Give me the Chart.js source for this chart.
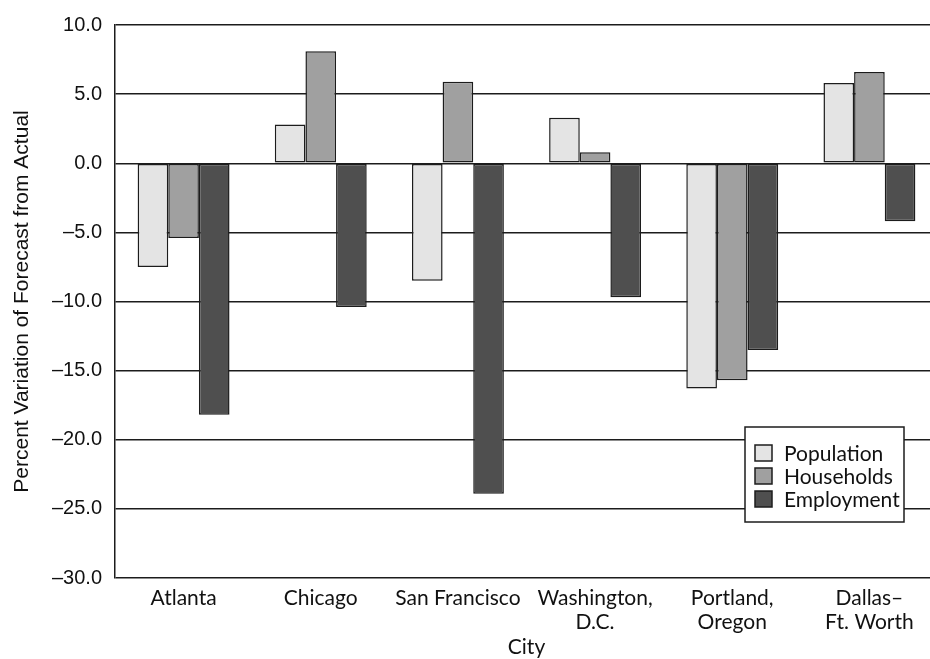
<!DOCTYPE html>
<html>
<head>
<meta charset="utf-8">
<script src="https://cdn.jsdelivr.net/npm/chart.js@4.4.1/dist/chart.umd.min.js"></script>
<style>
html, body { margin: 0; padding: 0; background: #fff; overflow: hidden; }
#wrap { width: 940px; height: 659px; position: relative; }
</style>
</head>
<body>
<div id="wrap"><canvas id="grafico"></canvas></div>
<script>
// datos
const cities = [["Atlanta"], ["Chicago"], ["San Francisco"], ["Washington,", "D.C."], ["Portland,", "Oregon"], ["Dallas–", "Ft. Worth"]];
const seriesNames = ["Population", "Households", "Employment"];
const population = [-7.5, 2.8, -8.5, 3.3, -16.3, 5.8];
const households = [-5.4, 8.1, 5.9, 0.8, -15.7, 6.6];
const employment = [-18.2, -10.4, -23.9, -9.7, -13.5, -4.2];
const yMin = -30, yMax = 10, yStep = 5;

const colores = ["#e4e4e4", "#a0a0a0", "#4f4f4f"];
const linea = "#1c1c1c";

// leyenda dentro del area del grafico
const legendBox = {
    id: "legendBox",
    afterDraw(chart) {
        const ctx = chart.ctx, a = chart.chartArea;
        const x = a.right - 193, y = a.top + 402, w = 159, h = 95;
        ctx.save();
        ctx.fillStyle = "#fff";
        ctx.fillRect(x, y, w, h);
        ctx.strokeStyle = linea;
        ctx.lineWidth = 1.5;
        ctx.strokeRect(x, y, w, h);
        chart.data.datasets.forEach((ds, i) => {
            const sy = y + 18 + i * 23;
            ctx.fillStyle = ds.backgroundColor;
            ctx.fillRect(x + 10, sy, 17, 16);
            ctx.strokeRect(x + 10, sy, 17, 16);
            ctx.fillStyle = "#111";
            ctx.font = "21px Lato";
            ctx.textBaseline = "middle";
            ctx.fillText(ds.label, x + 39, sy + 9);
        });
        ctx.restore();
    }
};

const ctx = document.getElementById("grafico").getContext("2d");
new Chart(ctx, {
    type: "bar",
    data: {
        labels: cities,
        datasets: [
            { label: seriesNames[0], data: population, backgroundColor: colores[0] },
            { label: seriesNames[1], data: households, backgroundColor: colores[1] },
            { label: seriesNames[2], data: employment, backgroundColor: colores[2] }
        ].map(d => Object.assign(d, { borderColor: linea, borderWidth: 1.5, borderSkipped: false }))
    },
    options: {
        responsive: true,
        maintainAspectRatio: false,
        animation: false,
        layout: { padding: { top: 22, right: 2, left: 0, bottom: 0 } },
        datasets: { bar: { categoryPercentage: 0.67, barPercentage: 1.0 } },
        plugins: { legend: { display: false }, tooltip: { enabled: false } },
        scales: {
            x: {
                grid: { display: false },
                border: { display: false },
                ticks: { color: "#111", font: { family: "Lato", size: 21, lineHeight: 1.15 }, padding: 0, maxRotation: 0, autoSkip: false },
                title: { display: true, text: "City", color: "#111", font: { family: "Lato", size: 21, lineHeight: 1.15 }, padding: 0 },
                afterFit: s => { s.height = 81; }
            },
            y: {
                min: yMin,
                max: yMax,
                ticks: {
                    stepSize: yStep,
                    color: "#111",
                    font: { family: "Liberation Sans", size: 20 },
                    padding: 13,
                    callback: v => v.toFixed(1).replace("-", "–")
                },
                grid: { color: linea, lineWidth: 1.5, drawTicks: false },
                border: { display: true, color: linea, width: 1.5 },
                title: { display: true, text: "Percent Variation of Forecast from Actual", color: "#111", font: { family: "Liberation Sans", size: 21, lineHeight: 1.15 }, padding: { top: 10, bottom: 0 } },
                afterFit: s => { s.width = 115; }
            }
        }
    },
    plugins: [legendBox]
});
</script>
</body>
</html>
